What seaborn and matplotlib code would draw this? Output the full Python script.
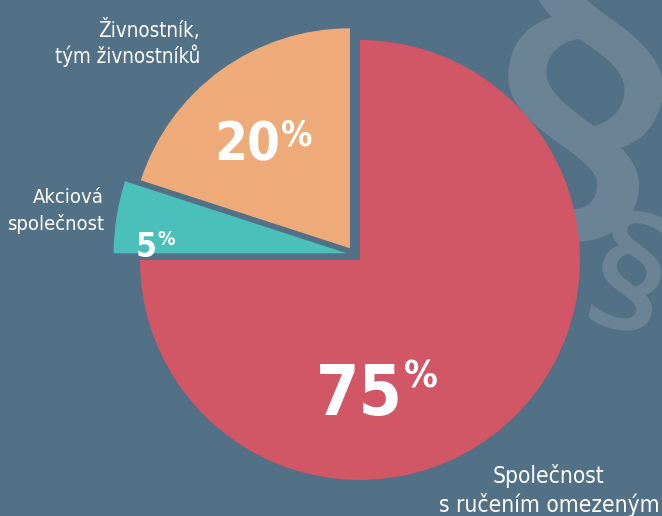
import matplotlib
matplotlib.use("Agg")
import matplotlib.pyplot as plt
import seaborn as sns

# ---- data ----
categories = ["Společnost s ručením omezeným", "Akciová společnost", "Živnostník, tým živnostníků"]
shares = [75, 5, 20]
label_lines = [["Společnost", "s ručením omezeným"], ["Akciová", "společnost"], ["Živnostník,", "tým živnostníků"]]

# ---- style ----
sns.set_theme(style="white")
BG = "#527186"
SEC = "#6c8596"
palette = sns.color_palette(["#d15666", "#4bbfba", "#eeaa78"])
plt.rcParams["font.family"] = ["DejaVu Sans"]
plt.rcParams["font.stretch"] = "condensed"

W, H = 662, 516
fig = plt.figure(figsize=(W / 100, H / 100), dpi=100, facecolor=BG)
ax = fig.add_axes([0, 0, 1, 1])
ax.set_facecolor(BG)

# background section signs
ax.text(571, H - 138, "§", fontsize=298, color=SEC, ha="center", va="center", stretch="normal",
        family="Open Sans", fontweight="semibold", rotation=-14, rotation_mode="anchor", zorder=0)
ax.text(625, H - 291, "§", fontsize=113, color=SEC, ha="center", va="center", stretch="normal",
        family="Open Sans", fontweight="semibold", rotation=-14, rotation_mode="anchor", zorder=0)

R = 220
wedges, _ = ax.pie(shares, colors=palette, startangle=90, counterclock=False,
                   explode=[7.7, 7.7, 7.7], center=(354.5, H - 254.5), radius=R,
                   wedgeprops=dict(linewidth=0), frame=True)
for w in wedges:
    w.set_zorder(2)
wedges[1].set_radius(R * 1.06)

ax.set_xlim(0, W)
ax.set_ylim(0, H)
ax.set_aspect("equal")
ax.axis("off")

white = "white"
# percentage labels (number + raised smaller %)
pct_specs = [
    (shares[0], 403, H - 415, 50, H - 388, 27),
    (shares[2], 280, H - 160, 38, H - 145, 25),
    (shares[1], 157, H - 257, 24, H - 245, 14),
]
for val, xr, yb, fs, yb2, fs2 in pct_specs:
    ax.text(xr, yb, f"{val}", fontsize=fs, fontweight="bold", color=white,
            ha="right", va="baseline", zorder=5)
    ax.text(xr + 1, yb2, "%", fontsize=fs2, fontweight="bold", color=white,
            ha="left", va="baseline", zorder=5)

# category labels
ax.text(200, H - 37, label_lines[2][0], fontsize=14.8, color=white, ha="right", va="baseline", zorder=5)
ax.text(200, H - 63, label_lines[2][1], fontsize=14.8, color=white, ha="right", va="baseline", zorder=5)
ax.text(104, H - 203, label_lines[1][0], fontsize=14.5, color=white, ha="right", va="baseline", zorder=5)
ax.text(104, H - 230, label_lines[1][1], fontsize=14.5, color=white, ha="right", va="baseline", zorder=5)
ax.text(549, H - 483, label_lines[0][0], fontsize=16.3, color=white, ha="center", va="baseline", zorder=5)
ax.text(549, H - 512, label_lines[0][1], fontsize=16.3, color=white, ha="center", va="baseline", zorder=5)

fig.savefig("out.png", dpi=100, facecolor=BG)
